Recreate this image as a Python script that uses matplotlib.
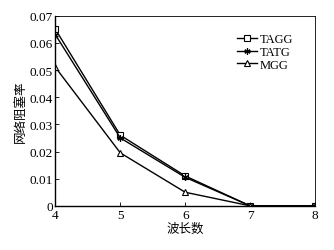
import matplotlib
matplotlib.use('Agg')
import matplotlib.pyplot as plt

plt.rcParams['font.family'] = ['Liberation Serif', 'Noto Sans CJK SC']

wavelengths = [4, 5, 6, 7, 8]
tagg = [0.065, 0.026, 0.011, 0.0, 0.0]
tatg = [0.063, 0.025, 0.0105, 0.0, 0.0]
mgg = [0.051, 0.0195, 0.005, 0.0, 0.0]

fig = plt.figure(figsize=(3.34, 2.51), dpi=100)
ax = fig.add_axes([0.166, 0.176, 0.777, 0.757])

ax.plot(wavelengths, tagg, color='black', lw=1.0, marker='s', ms=4, mfc='white', mec='black', mew=0.8, label='TAGG')
ax.plot(wavelengths, tatg, color='black', lw=1.0, marker=(6, 2, 0), ms=4.5, mec='black', mew=0.9, label='TATG')
ax.plot(wavelengths, mgg, color='black', lw=1.0, marker='^', ms=4.5, mfc='white', mec='black', mew=0.8, label='MGG')

ax.set_xlim(4, 8)
ax.set_ylim(0, 0.07)
ax.set_xticks([4, 5, 6, 7, 8])
ax.set_yticks([0, 0.01, 0.02, 0.03, 0.04, 0.05, 0.06, 0.07])
ax.set_yticklabels(['0', '0.01', '0.02', '0.03', '0.04', '0.05', '0.06', '0.07'])
ax.tick_params(direction='in', length=3, width=0.6, labelsize=9.5, pad=2)
for s in ax.spines.values():
    s.set_linewidth(0.6)
ax.spines['left'].set_linewidth(1.0)
ax.spines['bottom'].set_linewidth(1.0)

ax.set_xlabel('波长数', family='Noto Sans CJK SC', fontsize=9, labelpad=1)
ax.set_ylabel('网络阻塞率', family='Noto Sans CJK SC', fontsize=9, labelpad=2)

leg = ax.legend(loc='upper right', bbox_to_anchor=(0.94, 0.94), frameon=False, fontsize=9,
                handlelength=1.6, handletextpad=0.2, labelspacing=0.05, borderpad=0)

fig.savefig('out.png', dpi=100)
